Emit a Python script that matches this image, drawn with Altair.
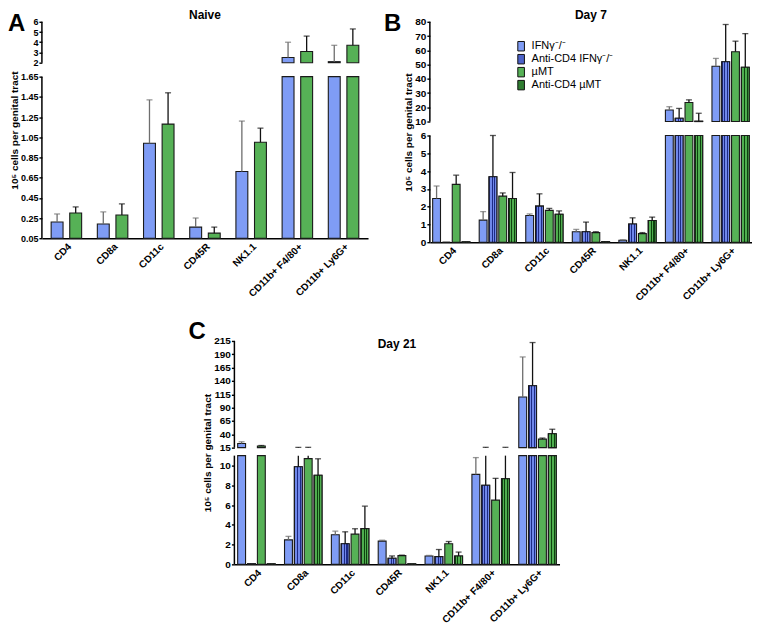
import altair as alt
import pandas as pd

FONT = "Liberation Sans"

categories = ["CD4", "CD8a", "CD11c", "CD45R", "NK1.1", "CD11b+ F4/80+", "CD11b+ Ly6G+"]
series_names = ["IFNγ⁻/⁻", "Anti-CD4 IFNγ⁻/⁻", "µMT", "Anti-CD4 µMT"]
series_fill = ["#7f9cf5", "#4c62c8", "#56b156", "#2f7d31"]
err_colors = ["#6e6e6e", "#111111", "#111111", "#111111"]
y_title = "10⁵ cells per genital tract"

# Panel A - Naive (mean, top of error bar)
naive_ifng = [0.21, 0.19, 0.99, 0.16, 0.71, 2.5, 2.1]
naive_ifng_err = [0.29, 0.31, 1.42, 0.25, 1.21, 4.0, 3.7]
naive_umt = [0.30, 0.28, 1.18, 0.10, 1.00, 3.1, 3.7]
naive_umt_err = [0.36, 0.39, 1.49, 0.16, 1.14, 4.6, 5.3]

# Panel B - Day 7
d7_ifng = [2.46, 1.24, 1.50, 0.59, 0.11, 18.1, 48.8]
d7_ifng_err = [3.16, 1.72, 1.59, 0.72, 0.14, 20.4, 54.3]
d7_anti_ifng = [0.0, 3.68, 2.03, 0.59, 1.02, 12.3, 52.0]
d7_anti_ifng_err = [0.0, 6.0, 2.72, 1.13, 1.37, 19.2, 78.1]
d7_umt = [3.25, 2.59, 1.79, 0.54, 0.48, 23.4, 59.0]
d7_umt_err = [3.77, 2.77, 1.90, 0.59, 0.54, 25.2, 66.4]
d7_anti_umt = [0.02, 2.46, 1.57, 0.03, 1.22, 10.2, 48.1]
d7_anti_umt_err = [0.02, 3.92, 1.76, 0.03, 1.41, 15.8, 71.7]

# Panel C - Day 21
d21_ifng = [22.8, 2.48, 3.00, 2.35, 0.84, 9.1, 110.0]
d21_ifng_err = [26.0, 2.83, 3.36, 2.44, 0.90, 10.8, 185.0]
d21_anti_ifng = [0.05, 9.87, 2.09, 0.62, 0.78, 8.0, 131.0]
d21_anti_ifng_err = [0.05, 15.6, 3.29, 0.85, 1.50, 15.6, 212.0]
d21_umt = [18.0, 10.7, 3.06, 0.88, 2.09, 6.5, 31.0]
d21_umt_err = [19.0, 15.6, 3.60, 0.93, 2.31, 8.7, 33.0]
d21_anti_umt = [0.05, 9.02, 3.61, 0.05, 0.85, 8.66, 41.0]
d21_anti_umt_err = [0.05, 10.68, 5.89, 0.05, 1.24, 15.6, 49.5]


def stripes(light, dark, n=3):
    stops = []
    for k in range(n):
        a = k / n
        b = a + 0.13 / n * 3
        c = (k + 1) / n
        stops += [
            {"offset": a, "color": dark},
            {"offset": min(b, 1), "color": dark},
            {"offset": min(b, 1), "color": light},
            {"offset": c, "color": light},
        ]
    return {"gradient": "linear", "x1": 0, "y1": 0, "x2": 1, "y2": 0, "stops": stops}


checker = {
    series_names[1]: stripes("#7088ea", "#1d2a86"),
    series_names[3]: stripes("#4fae4f", "#0d420e"),
}


def make_panel(letter, title, title_y, groups, width, pad_in, pad_out, off_pad,
               bmin, bmax, tmin, tmax, hb, gap, ht, bticks, tticks, bfmt, tfmt,
               label_size, letter_x, letter_y, legend=None):
    H = hb + gap + ht

    def db(v):
        return (v - bmin) / (bmax - bmin) * hb

    def dt(v):
        return hb + gap + (v - tmin) / (tmax - tmin) * ht

    bars, errs, caps = [], [], []
    for s, vals, evals in groups:
        col = err_colors[series_names.index(s)]
        for c, v, e in zip(categories, vals, evals):
            bars.append(dict(cat=c, series=s, y0=db(bmin), y1=db(min(v, bmax))))
            if v > tmin:
                bars.append(dict(cat=c, series=s, y0=dt(tmin), y1=dt(min(v, tmax))))
            if e > v:
                if v < bmax:
                    errs.append(dict(cat=c, series=s, col=col, y0=db(v), y1=db(min(e, bmax))))
                if e > tmin:
                    errs.append(dict(cat=c, series=s, col=col, y0=dt(max(v, tmin)), y1=dt(min(e, tmax))))
                if e <= bmax:
                    caps.append(dict(cat=c, series=s, col=col, y1=db(e)))
                elif tmin <= e <= tmax:
                    caps.append(dict(cat=c, series=s, col=col, y1=dt(e)))
    bars = pd.DataFrame(bars)
    errs = pd.DataFrame(errs)
    caps = pd.DataFrame(caps)
    domain_df = pd.DataFrame({"y0": [0, hb + gap], "y1": [hb, H]})
    letter_df = pd.DataFrame({"t": [letter]})
    title_df = pd.DataFrame({"t": [title]})

    present = [s for s, _, _ in groups]
    yscale = alt.Scale(domain=[0, H], nice=False, zero=False)
    xscale = alt.Scale(domain=categories, paddingInner=pad_in, paddingOuter=pad_out)
    oscale = alt.Scale(domain=present, paddingInner=off_pad)

    tick_vals = [db(t) for t in bticks] + [dt(t) for t in tticks]
    label_expr = (
        f"datum.value <= {hb + gap / 2} ? format({bmin} + datum.value * {(bmax - bmin) / hb}, '{bfmt}')"
        f" : format({tmin} + (datum.value - {hb + gap}) * {(tmax - tmin) / ht}, '{tfmt}')"
    )
    yaxis = alt.Axis(values=tick_vals, labelExpr=label_expr, domain=False, grid=False,
                     tickColor="black", tickSize=3, tickWidth=1.4, labelFont=FONT,
                     labelFontWeight="bold", labelFontSize=label_size, labelColor="black",
                     labelPadding=1, labelOverlap=False, titleFont=FONT, titleFontWeight="bold",
                     titleFontSize=10, titleColor="black", titlePadding=1)
    xaxis = alt.Axis(labelAngle=-45, labelFont=FONT, labelFontWeight="bold",
                     labelFontSize=10, labelColor="black", ticks=False, domainColor="black",
                     domainWidth=1.5, labelPadding=3, grid=False)

    x_enc = alt.X("cat:N", sort=categories, scale=xscale, axis=xaxis, title=None)
    y_enc = alt.Y("y1:Q", scale=yscale, axis=yaxis, title=y_title)
    off = alt.XOffset("series:N", scale=oscale, sort=present)

    if legend is None:
        leg = None
    else:
        leg = alt.Legend(orient="none", legendX=legend[0], legendY=legend[1], title=None,
                         symbolType="M-0.7,-1H0.7V1H-0.7Z", symbolSize=90,
                         symbolStrokeColor="#111111", symbolStrokeWidth=1,
                         labelFont=FONT, labelFontSize=11, labelColor="black",
                         rowPadding=-2, labelOffset=5)

    base_bars = alt.Chart(bars).mark_bar(stroke="#1a1a1a", strokeWidth=1.1).encode(
        x=x_enc,
        xOffset=off,
        y=y_enc,
        y2="y0:Q",
        color=alt.Color("series:N", scale=alt.Scale(domain=series_names, range=series_fill),
                        legend=leg),
    )
    layers = [base_bars]
    for s in present:
        if s in checker:
            layers.append(
                alt.Chart(bars).transform_filter(alt.datum.series == s)
                .mark_bar(fill=checker[s], stroke="#1a1a1a", strokeWidth=1.1)
                .encode(x=x_enc, xOffset=off, y=y_enc, y2="y0:Q")
            )
    layers.append(
        alt.Chart(errs).mark_rule(strokeWidth=1.3).encode(
            x=x_enc, xOffset=off, y=y_enc, y2="y0:Q",
            color=alt.Color("col:N", scale=None, legend=None),
        )
    )
    layers.append(
        alt.Chart(caps).mark_tick(size=6, thickness=1.3).encode(
            x=x_enc, xOffset=off, y=y_enc,
            color=alt.Color("col:N", scale=None, legend=None),
        )
    )
    layers.append(
        alt.Chart(domain_df).mark_rule(color="black", strokeWidth=1.5).encode(
            x=alt.value(0), y=y_enc, y2="y0:Q"
        )
    )
    layers.append(
        alt.Chart(letter_df).mark_text(fontSize=24, fontWeight="bold", font=FONT, align="left",
                                       baseline="top", color="black").encode(
            text="t:N", x=alt.value(letter_x), y=alt.value(letter_y)
        )
    )
    layers.append(
        alt.Chart(title_df).mark_text(fontSize=12, fontWeight="bold", font=FONT, align="center",
                                      baseline="alphabetic", color="black").encode(
            text="t:N", x=alt.value(width / 2), y=alt.value(title_y)
        )
    )
    return alt.layer(*layers).properties(width=width, height=H)


panel_a = make_panel(
    "A", "Naive", -3,
    [(series_names[0], naive_ifng, naive_ifng_err), (series_names[2], naive_umt, naive_umt_err)],
    327, 0.34, 0.2, 0.36,
    0.05, 1.65, 2, 6, 162, 14, 41,
    [0.05, 0.25, 0.45, 0.65, 0.85, 1.05, 1.25, 1.45, 1.65], [2, 3, 4, 5, 6], ".2f", ".0f",
    9, -34, -10,
)

panel_b = make_panel(
    "B", "Day 7", -3,
    [(series_names[0], d7_ifng, d7_ifng_err), (series_names[1], d7_anti_ifng, d7_anti_ifng_err),
     (series_names[2], d7_umt, d7_umt_err), (series_names[3], d7_anti_umt, d7_anti_umt_err)],
    323, 0.2, 0.06, 0.2,
    0, 6, 10, 80, 107, 14, 100,
    [0, 1, 2, 3, 4, 5, 6], [10, 20, 30, 40, 50, 60, 70, 80], ".0f", ".0f",
    10, -46, -10, legend=(86, 19),
)

panel_c = make_panel(
    "C", "Day 21", 7,
    [(series_names[0], d21_ifng, d21_ifng_err), (series_names[1], d21_anti_ifng, d21_anti_ifng_err),
     (series_names[2], d21_umt, d21_umt_err), (series_names[3], d21_anti_umt, d21_anti_umt_err)],
    326, 0.2, 0.07, 0.2,
    0, 11, 15, 215, 109, 8, 107,
    [0, 2, 4, 6, 8, 10], [15, 40, 65, 90, 115, 140, 165, 190, 215], ".0f", ".0f",
    10, -46, -21,
)

row1 = alt.hconcat(panel_a, panel_b, spacing=16).resolve_scale(color="independent", xOffset="independent")
chart = (
    alt.vconcat(row1, panel_c, spacing=17, center=True)
    .resolve_scale(color="independent", xOffset="independent")
    .properties(padding=0)
    .configure(font=FONT, background="white")
    .configure_view(stroke=None)
)

chart.save("out.html", embed_options={"renderer": "svg", "actions": False})
